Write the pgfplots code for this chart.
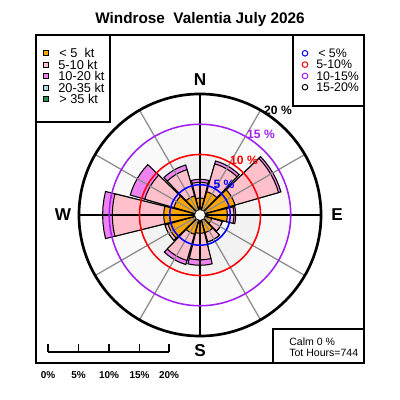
\documentclass[border=0pt]{standalone}
\usepackage{fontspec}
\setmainfont{Liberation Sans}
\usepackage{pgfplots}
\pgfplotsset{compat=1.18}
\definecolor{rorange}{HTML}{FFA500}
\definecolor{rpink}{HTML}{FFC0CB}
\definecolor{rviolet}{HTML}{EE82EE}
\definecolor{rlblue}{HTML}{ADD8E6}
\definecolor{rgreen}{HTML}{2E8B57}
\definecolor{rpurple}{HTML}{A020F0}
\definecolor{bgA}{HTML}{F2F2F2}
\definecolor{bgB}{HTML}{F9F9F9}
\definecolor{spoke}{HTML}{8C8C8C}

% one wedge: bearing, radius (%), colour
\newcommand{\petal}[3]{%
  \pgfmathsetmacro\tA{90-#1-14}%
  \pgfmathsetmacro\tB{90-#1-9.333}%
  \pgfmathsetmacro\tC{90-#1-4.667}%
  \pgfmathsetmacro\tD{90-#1}%
  \pgfmathsetmacro\tE{90-#1+4.667}%
  \pgfmathsetmacro\tF{90-#1+9.333}%
  \pgfmathsetmacro\tG{90-#1+14}%
  \addplot[draw=black,line width=0.75pt,fill=#3,data cs=polar]
    coordinates {(0,0) (\tA,#2) (\tB,#2) (\tC,#2) (\tD,#2) (\tE,#2) (\tF,#2) (\tG,#2)} -- cycle;
}
% bearing, cumulative <5 kt, 5-10 kt, 10-20 kt
\newcommand{\rose}[4]{\petal{#1}{#4}{rviolet}\petal{#1}{#3}{rpink}\petal{#1}{#2}{rorange}}

\begin{document}
\begin{tikzpicture}
% ---------- background (pixel frame: 400 x 400) ----------
\begin{scope}[shift={(0,10cm)},x=0.025cm,y=-0.025cm]
  \fill[white] (0,0) rectangle (400,400);
  \fill[bgB] (200,215) circle[radius=2.26875cm];
  \fill[bgA] (200,215) circle[radius=1.5125cm];
\end{scope}

% ---------- the rose (units: percent) ----------
\begin{axis}[at={(0,0)},anchor=south west,
  scale only axis,width=10cm,height=10cm,
  xmin=-33.0579,xmax=33.0579,ymin=-30.5785,ymax=35.5372,
  hide axis]
  \rose{0}{2.8}{5.4}{5.9}
  \rose{30}{4.0}{8.8}{9.3}
  \rose{60}{6.0}{13.5}{13.9}
  \rose{90}{4.5}{5.6}{5.9}
  \rose{120}{2.0}{3.8}{3.8}
  \rose{150}{3.0}{4.6}{4.6}
  \rose{180}{3.0}{7.4}{8.3}
  \rose{210}{3.3}{7.8}{8.5}
  \rose{240}{5.5}{6.0}{6.0}
  \rose{270}{6.0}{14.5}{16.1}
  \rose{300}{4.5}{9.5}{12.0}
  \rose{330}{3.3}{7.8}{8.6}
\end{axis}

% ---------- grid, labels, legends ----------
\begin{scope}[shift={(0,10cm)},x=0.025cm,y=-0.025cm]
  \foreach \b in {30,60,120,150,210,240,300,330}
    \draw[spoke,line width=0.9pt] (200,215) -- ++({121*sin(\b)},{-121*cos(\b)});
  \draw[black,line width=1.5pt] (200,94) -- (200,336);
  \draw[black,line width=1.5pt] (79,215) -- (321,215);
  \draw[blue,line width=1.1pt] (200,215) circle[radius=0.75625cm];
  \draw[red,line width=1.1pt] (200,215) circle[radius=1.5125cm];
  \draw[rpurple,line width=1.1pt] (200,215) circle[radius=2.26875cm];
  \draw[black,line width=1.9pt] (200,215) circle[radius=3.025cm];
  \filldraw[fill=white,draw=black,line width=0.4pt] (200,215) circle[radius=0.135cm];

  % ring labels
  \begin{scope}[every node/.style={inner sep=0pt,font=\bfseries\fontsize{8.6}{10}\selectfont}]
    \node[text=blue] at (224,184) {5 \%};
    \node[text=red] at (244,160) {10 \%};
    \node[text=rpurple] at (261,134) {15 \%};
    \node[text=black] at (278,110) {20 \%};
  \end{scope}

  % directions
  \begin{scope}[every node/.style={inner sep=0pt,font=\bfseries\fontsize{12.2}{14}\selectfont}]
    \node at (200,80) {N};
    \node at (337,215) {E};
    \node at (200,351) {S};
    \node at (63,215) {W};
  \end{scope}

  % title
  \node[inner sep=0pt,font=\bfseries\fontsize{10.9}{13}\selectfont] at (200,20) {Windrose\ \ Valentia July 2026};

  % frame and boxes
  \draw[line width=1.5pt] (36,35) rectangle (364,363);
  \draw[line width=1.3pt] (36,35) rectangle (110,122);
  \draw[line width=1.3pt] (293,35) rectangle (364,106);
  \draw[line width=1.5pt] (273,329) rectangle (364,363);

  % speed legend
  \begin{scope}[every node/.style={inner sep=0pt,anchor=west,font=\fontsize{9.1}{10}\selectfont}]
    \draw[fill=rorange,line width=0.5pt] (43.5,50.5) rectangle (48.5,55.5);
    \draw[fill=rpink,line width=0.5pt] (43.5,62) rectangle (48.5,67);
    \draw[fill=rviolet,line width=0.5pt] (43.5,73.5) rectangle (48.5,78.5);
    \draw[fill=rlblue,line width=0.5pt] (43.5,85) rectangle (48.5,90);
    \draw[fill=rgreen,line width=0.5pt] (43.5,96.5) rectangle (48.5,101.5);
    \node at (59,53) {<\ 5\ \ kt};
    \node at (58,64.5) {5-10 kt};
    \node at (58,76) {10-20 kt};
    \node at (58,87.5) {20-35 kt};
    \node at (59,99) {>\ 35 kt};
  \end{scope}

  % frequency legend
  \begin{scope}[every node/.style={inner sep=0pt,anchor=west,font=\fontsize{8.8}{10}\selectfont}]
    \draw[blue,line width=0.7pt] (305,53.3) circle[radius=0.07cm];
    \draw[red,line width=0.7pt] (305,64.6) circle[radius=0.07cm];
    \draw[rpurple,line width=0.7pt] (305,75.9) circle[radius=0.07cm];
    \draw[black,line width=0.7pt] (305,87.2) circle[radius=0.07cm];
    \node at (318,53.3) {<\ 5\%};
    \node at (316,64.6) {5-10\%};
    \node at (316,75.9) {10-15\%};
    \node at (316,87.2) {15-20\%};
  \end{scope}

  % calm box
  \begin{scope}[every node/.style={inner sep=0pt,anchor=west,font=\fontsize{7.5}{9}\selectfont}]
    \node at (289,342) {Calm 0 \%};
    \node at (289,352.5) {Tot Hours=744};
  \end{scope}

  % scale bar
  \draw[line width=0.8pt] (48,352) -- (169,352);
  \foreach \x in {48,78.5,109,139.5,169} \draw[line width=0.8pt] (\x,352.4) -- (\x,344.5);
  \begin{scope}[every node/.style={inner sep=0pt,font=\bfseries\fontsize{7.1}{8}\selectfont}]
    \node at (48,375) {0\%};
    \node at (78.5,375) {5\%};
    \node at (109,375) {10\%};
    \node at (139.5,375) {15\%};
    \node at (169,375) {20\%};
  \end{scope}
\end{scope}
\end{tikzpicture}
\end{document}
